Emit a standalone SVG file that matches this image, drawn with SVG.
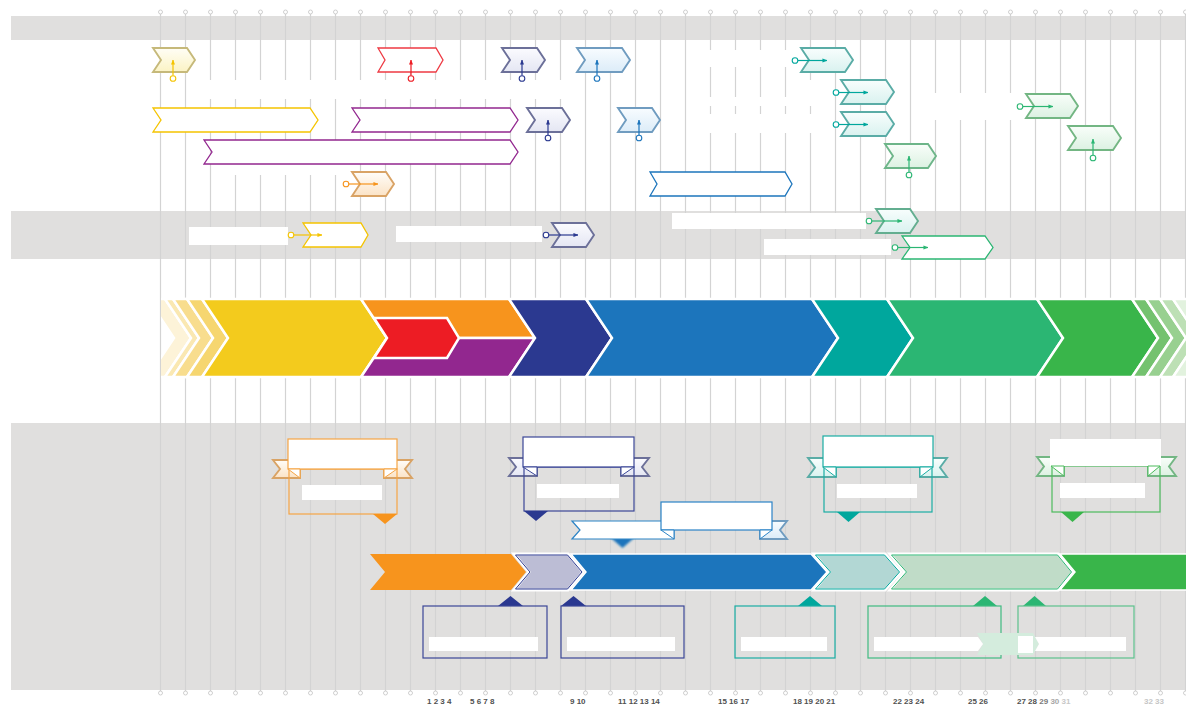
<svg xmlns="http://www.w3.org/2000/svg" width="1186" height="704" viewBox="0 0 1186 704">
<defs>
<style>
.band{fill:#e0dfde}
.grid{stroke:#d3d3d3;stroke-width:1.2;fill:none}
.dot{fill:#fff;stroke:#cacaca;stroke-width:0.9}
.wl{fill:#fff}
.stg{stroke:#fff;stroke-width:2.5;stroke-linejoin:miter}
.ic{stroke-width:1.9;filter:url(#soft)}
.ol{fill:#fff;stroke-width:1.3}
.ax{font-family:"Liberation Sans",Arial,sans-serif;font-size:8px;font-weight:bold;fill:#505050}
.cn{fill:none;stroke-width:1.2}
.cd{fill:#fff;stroke-width:1.1}
.rb{fill:#fff;stroke-width:1.2}
.bx{fill:none;stroke-width:1.2}
.fold{fill:#fff;stroke-width:1}
</style>
<filter id="soft" x="-10%" y="-20%" width="120%" height="140%"><feGaussianBlur stdDeviation="0.55"/></filter>
<filter id="soft2" x="-20%" y="-30%" width="140%" height="160%"><feGaussianBlur stdDeviation="0.8"/></filter>
<linearGradient id="gy" x1="0" y1="0" x2="0" y2="1"><stop offset="0" stop-color="#fffef6"/><stop offset="1" stop-color="#fbf3c4"/></linearGradient>
<linearGradient id="gd" x1="0" y1="0" x2="0" y2="1"><stop offset="0" stop-color="#fbfbff"/><stop offset="1" stop-color="#e4e6f3"/></linearGradient>
<linearGradient id="gb" x1="0" y1="0" x2="0" y2="1"><stop offset="0" stop-color="#f8fcff"/><stop offset="1" stop-color="#dcecf8"/></linearGradient>
<linearGradient id="gt" x1="0" y1="0" x2="0" y2="1"><stop offset="0" stop-color="#f8fefd"/><stop offset="1" stop-color="#d9f2ef"/></linearGradient>
<linearGradient id="gg" x1="0" y1="0" x2="0" y2="1"><stop offset="0" stop-color="#f9fefa"/><stop offset="1" stop-color="#dcf1e2"/></linearGradient>
<linearGradient id="go" x1="0" y1="0" x2="0" y2="1"><stop offset="0" stop-color="#fffdf9"/><stop offset="1" stop-color="#fbe3c6"/></linearGradient>
<marker id="ay" viewBox="0 0 6 6" refX="5.5" refY="3" markerWidth="5" markerHeight="5" orient="auto" markerUnits="userSpaceOnUse"><path d="M0,0.6L6,3L0,5.4z" fill="#f5c400"/></marker>
<marker id="ar" viewBox="0 0 6 6" refX="5.5" refY="3" markerWidth="5" markerHeight="5" orient="auto" markerUnits="userSpaceOnUse"><path d="M0,0.6L6,3L0,5.4z" fill="#ed1c24"/></marker>
<marker id="ad" viewBox="0 0 6 6" refX="5.5" refY="3" markerWidth="5" markerHeight="5" orient="auto" markerUnits="userSpaceOnUse"><path d="M0,0.6L6,3L0,5.4z" fill="#2b3990"/></marker>
<marker id="ab" viewBox="0 0 6 6" refX="5.5" refY="3" markerWidth="5" markerHeight="5" orient="auto" markerUnits="userSpaceOnUse"><path d="M0,0.6L6,3L0,5.4z" fill="#1c75bc"/></marker>
<marker id="at" viewBox="0 0 6 6" refX="5.5" refY="3" markerWidth="5" markerHeight="5" orient="auto" markerUnits="userSpaceOnUse"><path d="M0,0.6L6,3L0,5.4z" fill="#00a79d"/></marker>
<marker id="ag" viewBox="0 0 6 6" refX="5.5" refY="3" markerWidth="5" markerHeight="5" orient="auto" markerUnits="userSpaceOnUse"><path d="M0,0.6L6,3L0,5.4z" fill="#2bb673"/></marker>
<marker id="ao" viewBox="0 0 6 6" refX="5.5" refY="3" markerWidth="5" markerHeight="5" orient="auto" markerUnits="userSpaceOnUse"><path d="M0,0.6L6,3L0,5.4z" fill="#f7941d"/></marker>
<clipPath id="bandclip"><rect x="161" y="290" width="1025" height="95"/></clipPath>
<g id="dotrow">
<circle class="dot" cx="160.5" cy="0" r="2"/><circle class="dot" cx="185.5" cy="0" r="2"/><circle class="dot" cx="210.5" cy="0" r="2"/><circle class="dot" cx="235.5" cy="0" r="2"/><circle class="dot" cx="260.5" cy="0" r="2"/><circle class="dot" cx="285.5" cy="0" r="2"/><circle class="dot" cx="310.5" cy="0" r="2"/><circle class="dot" cx="335.5" cy="0" r="2"/><circle class="dot" cx="360.5" cy="0" r="2"/><circle class="dot" cx="385.5" cy="0" r="2"/><circle class="dot" cx="410.5" cy="0" r="2"/><circle class="dot" cx="435.5" cy="0" r="2"/><circle class="dot" cx="460.5" cy="0" r="2"/><circle class="dot" cx="485.5" cy="0" r="2"/><circle class="dot" cx="510.5" cy="0" r="2"/><circle class="dot" cx="535.5" cy="0" r="2"/><circle class="dot" cx="560.5" cy="0" r="2"/><circle class="dot" cx="585.5" cy="0" r="2"/><circle class="dot" cx="610.5" cy="0" r="2"/><circle class="dot" cx="635.5" cy="0" r="2"/><circle class="dot" cx="660.5" cy="0" r="2"/><circle class="dot" cx="685.5" cy="0" r="2"/><circle class="dot" cx="710.5" cy="0" r="2"/><circle class="dot" cx="735.5" cy="0" r="2"/><circle class="dot" cx="760.5" cy="0" r="2"/><circle class="dot" cx="785.5" cy="0" r="2"/><circle class="dot" cx="810.5" cy="0" r="2"/><circle class="dot" cx="835.5" cy="0" r="2"/><circle class="dot" cx="860.5" cy="0" r="2"/><circle class="dot" cx="885.5" cy="0" r="2"/><circle class="dot" cx="910.5" cy="0" r="2"/><circle class="dot" cx="935.5" cy="0" r="2"/><circle class="dot" cx="960.5" cy="0" r="2"/><circle class="dot" cx="985.5" cy="0" r="2"/><circle class="dot" cx="1010.5" cy="0" r="2"/><circle class="dot" cx="1035.5" cy="0" r="2"/><circle class="dot" cx="1060.5" cy="0" r="2"/><circle class="dot" cx="1085.5" cy="0" r="2"/><circle class="dot" cx="1110.5" cy="0" r="2"/><circle class="dot" cx="1135.5" cy="0" r="2"/><circle class="dot" cx="1160.5" cy="0" r="2"/><circle class="dot" cx="1185.5" cy="0" r="2"/>
</g>
</defs>

<rect width="1186" height="704" fill="#fff"/>

<g id="bands">
<rect class="band" x="11" y="16" width="1175" height="24"/>
<rect class="band" x="11" y="211" width="1175" height="48"/>
<rect class="band" x="11" y="423" width="1175" height="267"/>
</g>

<g id="grid">
<path class="grid" d="M160.5 12V693M185.5 12V693M210.5 12V693M235.5 12V693M260.5 12V693M285.5 12V693M310.5 12V693M335.5 12V693M360.5 12V693M385.5 12V693M410.5 12V693M435.5 12V693M460.5 12V693M485.5 12V693M510.5 12V693M535.5 12V693M560.5 12V693M585.5 12V693M610.5 12V693M635.5 12V693M660.5 12V693M685.5 12V693M710.5 12V693M735.5 12V693M760.5 12V693M785.5 12V693M810.5 12V693M835.5 12V693M860.5 12V693M885.5 12V693M910.5 12V693M935.5 12V693M960.5 12V693M985.5 12V693M1010.5 12V693M1035.5 12V693M1060.5 12V693M1085.5 12V693M1110.5 12V693M1135.5 12V693M1160.5 12V693M1185.5 12V693"/>
<use href="#dotrow" y="12"/>
<use href="#dotrow" y="693"/>
</g>

<g id="label-areas">
<rect class="wl" x="200" y="80" width="370" height="19"/>
<rect class="wl" x="700" y="50" width="90" height="17"/>
<rect class="wl" x="700" y="97" width="132" height="9"/>
<rect class="wl" x="800" y="80" width="32" height="17"/>
<rect class="wl" x="700" y="114" width="132" height="19"/>
<rect class="wl" x="925" y="93" width="90" height="27"/>
<rect class="wl" x="225" y="164" width="120" height="11"/>
</g>

<g id="labels-band2">
<rect class="wl" x="189" y="227" width="99" height="18"/>
<rect class="wl" x="396" y="226" width="146" height="16"/>
<rect class="wl" x="672" y="213" width="194" height="16"/>
<rect class="wl" x="764" y="239" width="127" height="16"/>
</g>

<g id="main-band" clip-path="url(#bandclip)">
<g id="stage-fade-left">
<polygon class="stg" fill="#fdf3d8" points="148,299 165,299 191,338 165,377 148,377 174,338"/>
<polygon class="stg" fill="#fae8b2" points="165,299 173,299 199,338 173,377 165,377 191,338"/>
<polygon class="stg" fill="#f8dd8e" points="173,299 187,299 213,338 187,377 173,377 199,338"/>
<polygon class="stg" fill="#f6d670" points="187,299 202,299 228,338 202,377 187,377 213,338"/>
</g>
<polygon id="stage-yellow" class="stg" fill="#f3cb1d" points="202,299 361,299 387,338 361,377 202,377 228,338"/>
<g id="stage-orange-group">
<polygon class="stg" fill="#f7941d" points="361,299 509,299 535,338 387,338"/>
<polygon class="stg" fill="#92278f" points="387,338 535,338 509,377 361,377"/>
<polygon class="stg" fill="#ed1c24" points="374,318 447,318 459,338 447,358 374,358 387,338"/>
</g>
<polygon id="stage-darkblue" class="stg" fill="#2b3990" points="509,299 586,299 612,338 586,377 509,377 535,338"/>
<polygon id="stage-blue" class="stg" fill="#1c75bc" points="586,299 812,299 838,338 812,377 586,377 612,338"/>
<polygon id="stage-teal" class="stg" fill="#00a79d" points="812,299 887,299 913,338 887,377 812,377 838,338"/>
<polygon id="stage-green" class="stg" fill="#2bb673" points="887,299 1037,299 1063,338 1037,377 887,377 913,338"/>
<polygon id="stage-green2" class="stg" fill="#39b54a" points="1037,299 1132,299 1158,338 1132,377 1037,377 1063,338"/>
<g id="stage-fade-right">
<polygon class="stg" fill="#74c26f" points="1132,299 1146,299 1172,338 1146,377 1132,377 1158,338"/>
<polygon class="stg" fill="#98d090" points="1146,299 1160,299 1186,338 1160,377 1146,377 1172,338"/>
<polygon class="stg" fill="#bde0b5" points="1160,299 1173,299 1199,338 1173,377 1160,377 1186,338"/>
<polygon class="stg" fill="#e2f2de" points="1173,299 1195,299 1221,338 1195,377 1173,377 1199,338"/>
</g>
</g>

<g id="top-milestones">
<g id="m-yellow-1"><polygon class="ic" fill="url(#gy)" stroke="#c6b97a" points="153,48 187,48 195,60 187,72 153,72 161,60"/></g>
<g id="m-red"><polygon class="ol" stroke="#ee3a43" points="378,48 436,48 443,60 436,72 378,72 385,60"/></g>
<g id="m-dblue-1"><polygon class="ic" fill="url(#gd)" stroke="#6c7099" points="502,48 537,48 545,60 537,72 502,72 510,60"/></g>
<g id="m-blue-1"><polygon class="ic" fill="url(#gb)" stroke="#6f9cc0" points="577,48 622,48 630,60 622,72 577,72 585,60"/></g>
<g id="m-teal-1"><polygon class="ic" fill="url(#gt)" stroke="#5aaca6" points="801,48 845,48 853,60 845,72 801,72 809,60"/></g>
<g id="m-teal-2"><polygon class="ic" fill="url(#gt)" stroke="#5aaca6" points="841,80 886,80 894,92 886,104 841,104 849,92"/></g>
<g id="m-teal-3"><polygon class="ic" fill="url(#gt)" stroke="#5aaca6" points="841,112 886,112 894,124 886,136 841,136 849,124"/></g>
<g id="m-green-1"><polygon class="ic" fill="url(#gg)" stroke="#73b683" points="1026,94 1070,94 1078,106 1070,118 1026,118 1034,106"/></g>
<g id="m-green-2"><polygon class="ic" fill="url(#gg)" stroke="#73b683" points="1068,126 1113,126 1121,138 1113,150 1068,150 1076,138"/></g>
<g id="m-green-3"><polygon class="ic" fill="url(#gg)" stroke="#6db589" points="885,144 928,144 936,156 928,168 885,168 893,156"/></g>
<g id="t-yellow"><polygon class="ol" stroke="#f5c400" points="153,108 310,108 318,120 310,132 153,132 161,120"/></g>
<g id="t-purple-1"><polygon class="ol" stroke="#92278f" points="352,108 510,108 518,120 510,132 352,132 360,120"/></g>
<g id="t-purple-2"><polygon class="ol" stroke="#92278f" points="204,140 510,140 518,152 510,164 204,164 212,152"/></g>
<g id="m-dblue-2"><polygon class="ic" fill="url(#gd)" stroke="#6c7099" points="527,108 562,108 570,120 562,132 527,132 535,120"/></g>
<g id="m-blue-2"><polygon class="ic" fill="url(#gb)" stroke="#6f9cc0" points="618,108 652,108 660,120 652,132 618,132 626,120"/></g>
<g id="m-orange"><polygon class="ic" fill="url(#go)" stroke="#d9a365" points="352,172 386,172 394,184 386,196 352,196 360,184"/></g>
<g id="t-blue"><polygon class="ol" stroke="#1c75bc" points="650,172 785,172 792,184 785,196 650,196 657,184"/></g>
<g id="t-yellow-2"><polygon class="ol" stroke="#f5c400" points="303,223 361,223 368,235 361,247 303,247 311,235"/></g>
<g id="m-dblue-3"><polygon class="ic" fill="url(#gd)" stroke="#6c7099" points="552,223 586,223 594,235 586,247 552,247 560,235"/></g>
<g id="m-teal-4"><polygon class="ic" fill="url(#gt)" stroke="#64ae90" points="876,209 910,209 918,221 910,233 876,233 884,221"/></g>
<g id="t-green"><polygon class="ol" stroke="#2bb673" points="902,236 985,236 993,247.5 985,259 902,259 910,247.5"/></g>
</g>

<g id="bottom-track">
<polygon id="b-orange" fill="#f7941d" points="370,554 511,554 526,572 511,590 370,590 385,572"/>
<g id="b-dblue"><polygon fill="#bcbdd5" stroke="#fff" stroke-width="3" points="514,554 568,554 583,572 568,590 514,590 529,572"/><polygon fill="none" stroke="#2b3990" stroke-width="1" points="515.5,555 567.5,555 582,572 567.5,589 515.5,589 530,572"/></g>
<polygon id="b-blue" fill="#1c75bc" stroke="#fff" stroke-width="1.5" points="571,554 811,554 827,572 811,590 571,590 586,572"/>
<g id="b-teal"><polygon fill="#b2d7d4" stroke="#fff" stroke-width="3" points="814,554 885,554 901,572 885,590 814,590 829,572"/><polygon fill="none" stroke="#00a79d" stroke-width="1" points="815.5,555 884.5,555 899.5,572 884.5,589 815.5,589 830.5,572"/></g>
<g id="b-green"><polygon fill="#c0dcc8" stroke="#fff" stroke-width="3" points="890,554 1058,554 1073,572 1058,590 890,590 905,572"/><polygon fill="none" stroke="#2bb673" stroke-width="1" points="891.5,555 1057.5,555 1071.5,572 1057.5,589 891.5,589 906.5,572"/></g>
<polygon id="b-green2" fill="#39b54a" stroke="#fff" stroke-width="1.5" points="1060,554 1190,554 1190,590 1060,590 1075,572"/>
</g>

<g id="callout-orange">
<polygon class="ic" fill="url(#go)" stroke="#d9a365" points="273,460 300,460 300,478 273,478 280,469"/>
<polygon class="ic" fill="url(#go)" stroke="#d9a365" points="384,460 412,460 405,469 412,478 384,478"/>
<rect class="bx" stroke="#f6a545" x="289" y="469" width="108" height="45"/>
<rect class="rb" stroke="#f6a545" x="288" y="439" width="109" height="30"/>
<polygon class="fold" stroke="#f6a545" points="288,469 300,478 300,469"/>
<polygon class="fold" stroke="#f6a545" points="397,469 384,478 384,469"/>
<rect class="wl" x="302" y="485" width="80" height="15"/>
<polygon fill="#f7941d" points="373,514 397,514 385,524"/>
</g>

<g id="callout-dblue">
<polygon class="ic" fill="url(#gd)" stroke="#6c7099" points="509,458 537,458 537,476 509,476 516,467"/>
<polygon class="ic" fill="url(#gd)" stroke="#6c7099" points="621,458 649,458 642,467 649,476 621,476"/>
<rect class="bx" stroke="#3b4797" x="524" y="467" width="110" height="44"/>
<rect class="rb" stroke="#3b4797" x="523" y="437" width="111" height="30"/>
<polygon class="fold" stroke="#3b4797" points="523,467 537,476 537,467"/>
<polygon class="fold" stroke="#3b4797" points="634,467 621,476 621,467"/>
<rect class="wl" x="537" y="484" width="82" height="14"/>
<polygon fill="#2b3990" points="524,511 548,511 536,521"/>
</g>

<g id="callout-blue">
<polygon fill="#1c75bc" filter="url(#soft2)" points="611,538 634,538 622.5,548"/>
<polygon class="rb" stroke="#2a83c6" points="572,521 674,521 674,539 572,539 580,530"/>
<polygon class="ic" fill="url(#gb)" stroke="#6f9cc0" points="760,521 787,521 780,530 787,539 760,539"/>
<rect class="rb" stroke="#2a83c6" x="661" y="502" width="111" height="28"/>
<polygon class="fold" stroke="#2a83c6" points="661,530 674,539 674,530"/>
<polygon class="fold" stroke="#2a83c6" points="772,530 760,539 760,530"/>
</g>

<g id="callout-teal">
<polygon class="ic" fill="url(#gt)" stroke="#5aaca6" points="808,458 836,458 836,477 808,477 815,467.5"/>
<polygon class="ic" fill="url(#gt)" stroke="#5aaca6" points="920,458 947,458 940,467.5 947,477 920,477"/>
<rect class="bx" stroke="#1aada3" x="824" y="467" width="108" height="45"/>
<rect class="rb" stroke="#1aada3" x="823" y="436" width="110" height="31"/>
<polygon class="fold" stroke="#1aada3" points="823,467 836,477 836,467"/>
<polygon class="fold" stroke="#1aada3" points="933,467 920,477 920,467"/>
<rect class="wl" x="837" y="484" width="80" height="14"/>
<polygon fill="#00a79d" points="837,512 860,512 848.5,522"/>
</g>

<g id="callout-green">
<polygon class="ic" fill="url(#gg)" stroke="#73b683" points="1037,457 1064,457 1064,476 1037,476 1044,466.5"/>
<polygon class="ic" fill="url(#gg)" stroke="#73b683" points="1148,457 1176,457 1169,466.5 1176,476 1148,476"/>
<rect class="bx" stroke="#4cbb5c" x="1052" y="466" width="108" height="46"/>
<rect class="wl" x="1050" y="439" width="111" height="27"/>
<polygon class="fold" stroke="#4cbb5c" points="1051,466 1064,476 1064,466"/>
<polygon class="fold" stroke="#4cbb5c" points="1160,466 1148,476 1148,466"/>
<rect class="wl" x="1060" y="483" width="85" height="15"/>
<polygon fill="#39b54a" points="1061,512 1084,512 1072.5,522"/>
</g>

<g id="box-dblue-1">
<polygon fill="#2b3990" filter="url(#soft)" points="498,606 523,606 510.5,596"/>
<rect class="bx" stroke="#3b4797" x="423" y="606" width="124" height="52"/>
<rect class="wl" x="429" y="637" width="109" height="14"/>
</g>
<g id="box-dblue-2">
<polygon fill="#2b3990" filter="url(#soft)" points="561,606 586,606 573.5,596"/>
<rect class="bx" stroke="#3b4797" x="561" y="606" width="123" height="52"/>
<rect class="wl" x="567" y="637" width="108" height="14"/>
</g>
<g id="box-teal">
<polygon fill="#00a79d" points="798,606 822,606 810,596"/>
<rect class="bx" stroke="#1aada3" x="735" y="606" width="100" height="52"/>
<rect class="wl" x="741" y="637" width="86" height="14"/>
</g>
<g id="box-green-1">
<polygon fill="#2bb673" points="973,606 997,606 985,596"/>
<rect class="bx" stroke="#3fbb80" x="868" y="606" width="133" height="52"/>
</g>
<g id="box-green-2">
<polygon fill="#2bb673" points="1023,606 1046,606 1034.5,596"/>
<rect class="bx" stroke="#5cc28c" x="1018" y="606" width="116" height="52"/>
</g>
<g id="box-green-inner">
<polygon fill="#d4ecdd" points="977,633 1033,633 1039,644 1033,655 977,655 983,644"/>
<polygon class="wl" points="874,637 978,637 983,644 978,651 874,651"/>
<rect class="wl" x="1018" y="636" width="15" height="17"/>
<polygon class="wl" points="1035,637 1126,637 1126,651 1035,651 1039,644"/>
</g>

<g id="connectors">
<line class="cn" stroke="#f5c400" x1="173" y1="75.5" x2="173" y2="60" marker-end="url(#ay)"/><circle class="cd" stroke="#f5c400" cx="173" cy="78.5" r="2.8"/>
<line class="cn" stroke="#ed1c24" x1="411" y1="75.5" x2="411" y2="60" marker-end="url(#ar)"/><circle class="cd" stroke="#ed1c24" cx="411" cy="78.5" r="2.8"/>
<line class="cn" stroke="#2b3990" x1="522" y1="75.5" x2="522" y2="60" marker-end="url(#ad)"/><circle class="cd" stroke="#2b3990" cx="522" cy="78.5" r="2.8"/>
<line class="cn" stroke="#1c75bc" x1="597" y1="75.5" x2="597" y2="60" marker-end="url(#ab)"/><circle class="cd" stroke="#1c75bc" cx="597" cy="78.5" r="2.8"/>
<line class="cn" stroke="#00a79d" x1="797.8" y1="60.5" x2="827" y2="60.5" marker-end="url(#at)"/><circle class="cd" stroke="#00a79d" cx="795" cy="60.5" r="2.8"/>
<line class="cn" stroke="#00a79d" x1="838.8" y1="92.5" x2="868" y2="92.5" marker-end="url(#at)"/><circle class="cd" stroke="#00a79d" cx="836" cy="92.5" r="2.8"/>
<line class="cn" stroke="#00a79d" x1="838.8" y1="124.5" x2="868" y2="124.5" marker-end="url(#at)"/><circle class="cd" stroke="#00a79d" cx="836" cy="124.5" r="2.8"/>
<line class="cn" stroke="#2bb673" x1="1022.8" y1="106.5" x2="1053" y2="106.5" marker-end="url(#ag)"/><circle class="cd" stroke="#2bb673" cx="1020" cy="106.5" r="2.8"/>
<line class="cn" stroke="#2bb673" x1="1093" y1="155" x2="1093" y2="139" marker-end="url(#ag)"/><circle class="cd" stroke="#2bb673" cx="1093" cy="158" r="2.8"/>
<line class="cn" stroke="#2bb673" x1="909" y1="172" x2="909" y2="156" marker-end="url(#ag)"/><circle class="cd" stroke="#2bb673" cx="909" cy="175" r="2.8"/>
<line class="cn" stroke="#2b3990" x1="548" y1="135" x2="548" y2="120" marker-end="url(#ad)"/><circle class="cd" stroke="#2b3990" cx="548" cy="138" r="2.8"/>
<line class="cn" stroke="#1c75bc" x1="639" y1="135" x2="639" y2="120" marker-end="url(#ab)"/><circle class="cd" stroke="#1c75bc" cx="639" cy="138" r="2.8"/>
<line class="cn" stroke="#f7941d" x1="348.8" y1="184" x2="378" y2="184" marker-end="url(#ao)"/><circle class="cd" stroke="#f7941d" cx="346" cy="184" r="2.8"/>
<line class="cn" stroke="#f5c400" x1="293.8" y1="235" x2="322" y2="235" marker-end="url(#ay)"/><circle class="cd" stroke="#f5c400" cx="291" cy="235" r="2.8"/>
<line class="cn" stroke="#2b3990" x1="548.8" y1="235" x2="578" y2="235" marker-end="url(#ad)"/><circle class="cd" stroke="#2b3990" cx="546" cy="235" r="2.8"/>
<line class="cn" stroke="#2bb673" x1="871.8" y1="221" x2="902" y2="221" marker-end="url(#ag)"/><circle class="cd" stroke="#2bb673" cx="869" cy="221" r="2.8"/>
<line class="cn" stroke="#2bb673" x1="897.8" y1="247.5" x2="928" y2="247.5" marker-end="url(#ag)"/><circle class="cd" stroke="#2bb673" cx="895" cy="247.5" r="2.8"/>
</g>

<g id="axis-labels">
<text class="ax" x="427" y="704">1 2 3 4</text>
<text class="ax" x="470" y="704">5 6 7 8</text>
<text class="ax" x="570" y="704">9 10</text>
<text class="ax" x="618" y="704">11 12 13 14</text>
<text class="ax" x="718" y="704">15 16 17</text>
<text class="ax" x="793" y="704">18 19 20 21</text>
<text class="ax" x="893" y="704">22 23 24</text>
<text class="ax" x="968" y="704">25 26</text>
<text class="ax" x="1017" y="704">27 28 <tspan fill="#7a7a7a">29</tspan> <tspan fill="#a8a8a8">30</tspan> <tspan fill="#c8c8c8">31</tspan></text>
<text class="ax" x="1144" y="704" style="fill:#c6c6c6">32 33</text>
</g>
</svg>
